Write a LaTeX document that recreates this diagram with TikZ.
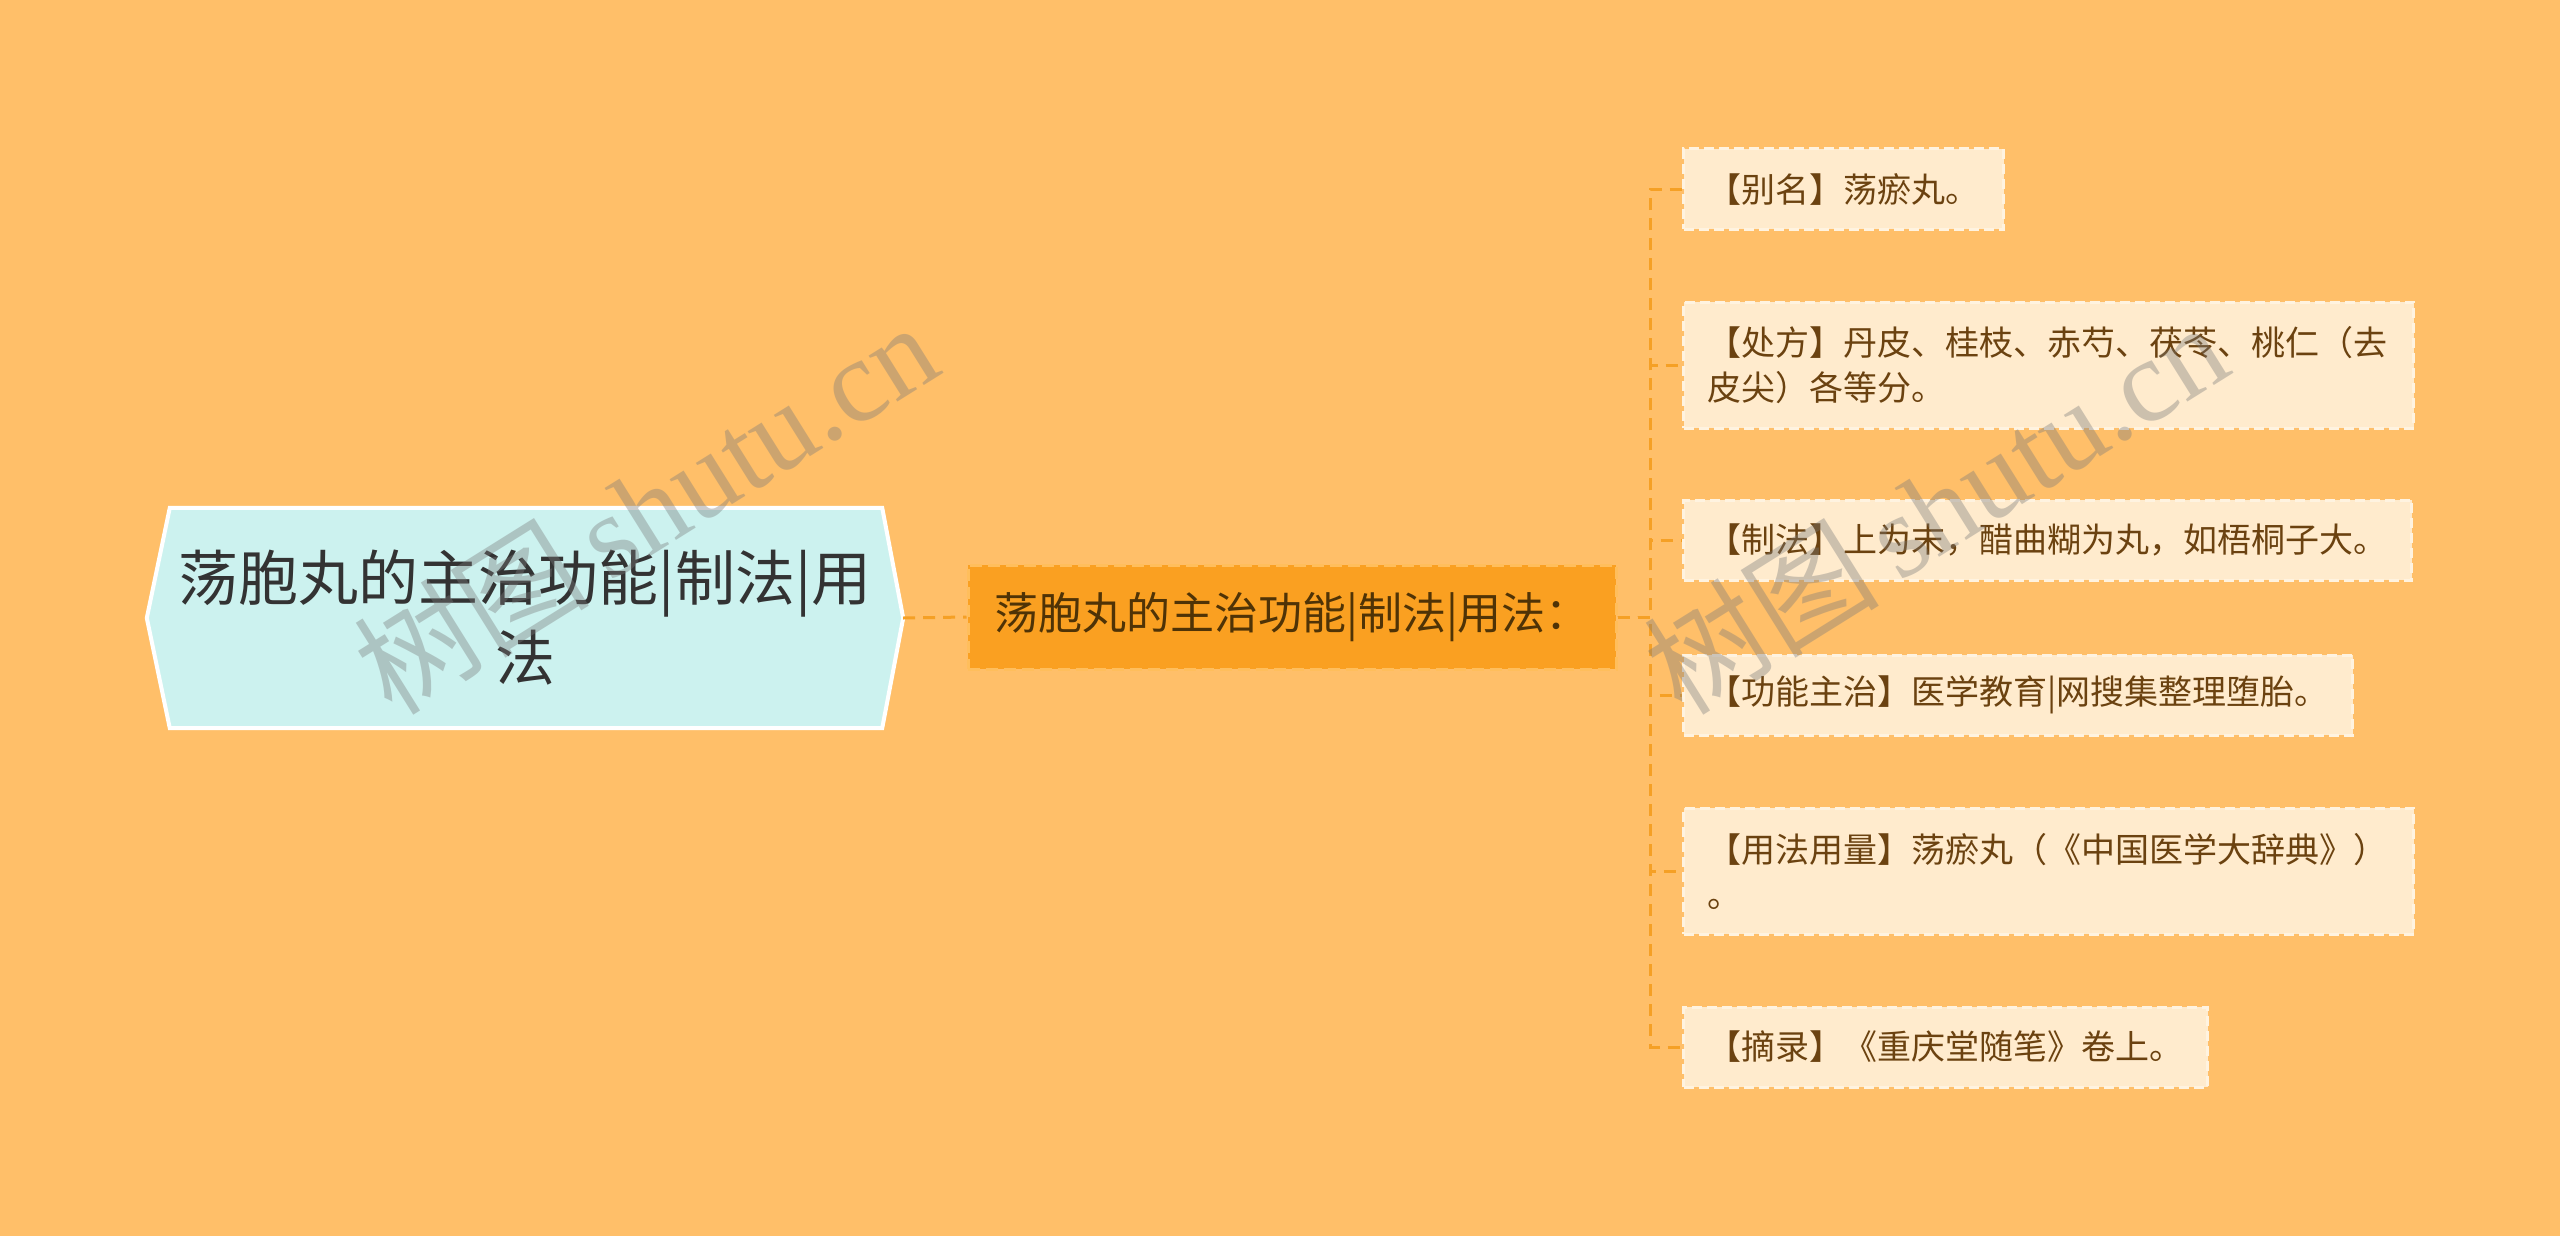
\documentclass[tikz,border=0pt]{standalone}
\usepackage{fontspec}
\newfontfamily\cjk{Noto Sans CJK SC}
\newfontfamily\wmserif{Liberation Serif}
\usetikzlibrary{calc,backgrounds}
\definecolor{bgc}{HTML}{FFBF69}
\definecolor{rootfill}{HTML}{CCF2EF}
\definecolor{roottext}{HTML}{333333}
\definecolor{midfill}{HTML}{FAA021}
\definecolor{midborder}{HTML}{FFBE5C}
\definecolor{midtext}{HTML}{4F3306}
\definecolor{leaffill}{HTML}{FFEBCD}
\definecolor{leafborder}{HTML}{FFF3E0}
\definecolor{leaftext}{HTML}{6B4210}
\definecolor{linkc}{HTML}{F5A025}
\definecolor{wmc}{HTML}{7A7A7A}
\tikzset{
  rootbox/.style={shape=rectangle, minimum width=756, minimum height=220, inner sep=0,
    align=center, text=roottext, font=\cjk\fontsize{60}{80}\selectfont},
  midbox/.style={shape=rectangle, fill=midfill, draw=midborder, line width=3,
    dash pattern=on 12 off 6, minimum width=648, minimum height=104, inner sep=0,
    text=midtext, font=\cjk\fontsize{44}{54}\selectfont},
  leafbox/.style={shape=rectangle, anchor=west, fill=leaffill, draw=leafborder, line width=3,
    dash pattern=on 10 off 5, inner xsep=24, inner ysep=0, minimum height=80,
    text=leaftext, align=left, font=\cjk\fontsize{34}{45}\selectfont},
  twoline/.style={text width=682, minimum height=126},
  link/.style={draw=linkc, line width=3, dash pattern=on 12 off 8},
  watermark/.style={text=wmc, opacity=0.38, rotate=32, inner sep=0}
}
\begin{document}
\begin{tikzpicture}[x=1pt,y=-1pt]
\useasboundingbox (0,0) rectangle (2560,1236);
\begin{pgfonlayer}{background}
\fill[bgc] (0,0) rectangle (2560,1236);
\end{pgfonlayer}

% root
\node[rootbox] (root) at (525,618) {荡胞丸的主治功能|制法|用\\法};
\begin{pgfonlayer}{background}
\path[fill=rootfill, draw=white, line width=4]
  (root.west) -- ($(root.north west)+(23,0)$) -- ($(root.north east)+(-21,0)$)
  -- (root.east) -- ($(root.south east)+(-21,0)$) -- ($(root.south west)+(23,0)$) -- cycle;
\end{pgfonlayer}

% middle
\node[midbox] (mid) at (1292,617) {荡胞丸的主治功能|制法|用法：};

% leaves
\node[leafbox] (l1) at (1682,189) {【别名】荡瘀丸。};
\node[leafbox, twoline] (l2) at (1682,365) {【处方】丹皮、桂枝、赤芍、茯苓、桃仁（去\\皮尖）各等分。};
\node[leafbox] (l3) at (1682,540) {【制法】上为末，醋曲糊为丸，如梧桐子大。};
\node[leafbox] (l4) at (1682,695) {【功能主治】医学教育|网搜集整理堕胎。};
\node[leafbox, twoline] (l5) at (1682,871) {【用法用量】荡瘀丸（《中国医学大辞典》）\\。};
\node[leafbox] (l6) at (1682,1047) {【摘录】《重庆堂随笔》卷上。};

% connectors
\begin{pgfonlayer}{background}
\draw[link] (root.east) -- (mid.west);
\foreach \n in {l1,l2,l3,l4,l5,l6}{
  \draw[link] (mid.east) -- ++(33,0) |- (\n.west);
}
\end{pgfonlayer}

% watermarks
\node[watermark] (wm1) at (645,507) {\cjk\fontsize{118}{118}\selectfont 树图\,\wmserif shutu.cn};
\node[watermark] (wm2) at (1935,507) {\cjk\fontsize{118}{118}\selectfont 树图\,\wmserif shutu.cn};
\end{tikzpicture}
\end{document}
